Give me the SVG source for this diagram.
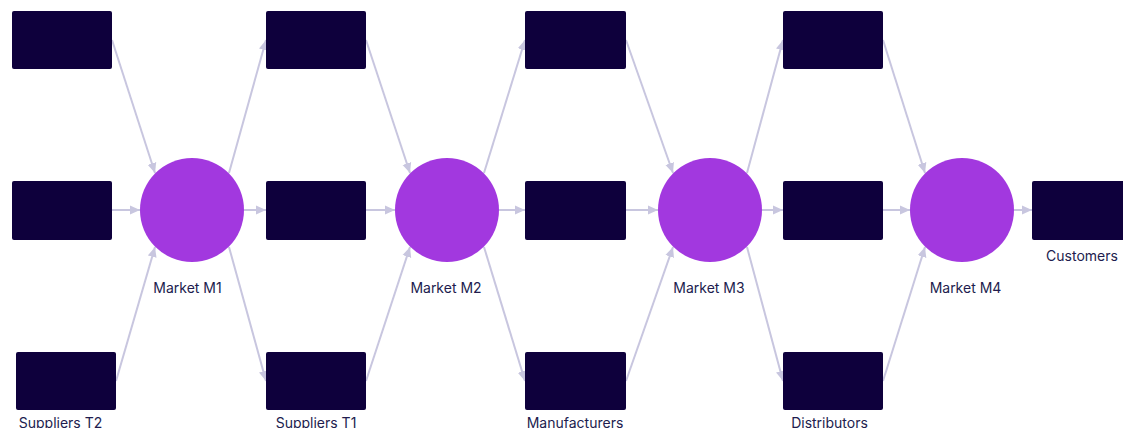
<svg xmlns="http://www.w3.org/2000/svg" width="1123" height="428" viewBox="0 0 1123 428">
<style>
.box{fill:#0e003c}
.mkt{fill:#a238df}
.lbl{font-family:Inter,"Liberation Sans",sans-serif;font-size:14px;fill:#211c4e;text-anchor:middle}
.edge{stroke:#c8c6df;stroke-width:2;fill:none;marker-end:url(#arr)}
</style>
<defs>
<marker id="arr" markerUnits="userSpaceOnUse" markerWidth="10" markerHeight="10" viewBox="0 0 10 10" refX="10" refY="5" orient="auto">
<path d="M0,0.5 L10,5 L0,9.5 z" fill="#c8c6df"/>
</marker>
</defs>
<g id="connectors">
<line class="edge" x1="112" y1="40" x2="155" y2="173"/>
<line class="edge" x1="112" y1="210" x2="140" y2="210"/>
<line class="edge" x1="116" y1="381" x2="155" y2="247"/>
<line class="edge" x1="229" y1="173" x2="266" y2="40"/>
<line class="edge" x1="244" y1="210" x2="266" y2="210"/>
<line class="edge" x1="229" y1="247" x2="266" y2="381"/>
<line class="edge" x1="366" y1="40" x2="410" y2="173"/>
<line class="edge" x1="366" y1="210" x2="395" y2="210"/>
<line class="edge" x1="366" y1="381" x2="410" y2="247"/>
<line class="edge" x1="484" y1="173" x2="525" y2="40"/>
<line class="edge" x1="499" y1="210" x2="525" y2="210"/>
<line class="edge" x1="484" y1="247" x2="525" y2="381"/>
<line class="edge" x1="626" y1="40" x2="673" y2="173"/>
<line class="edge" x1="626" y1="210" x2="658" y2="210"/>
<line class="edge" x1="626" y1="381" x2="673" y2="247"/>
<line class="edge" x1="747" y1="173" x2="783" y2="40"/>
<line class="edge" x1="762" y1="210" x2="783" y2="210"/>
<line class="edge" x1="747" y1="247" x2="783" y2="381"/>
<line class="edge" x1="883" y1="40" x2="925" y2="173"/>
<line class="edge" x1="883" y1="210" x2="910" y2="210"/>
<line class="edge" x1="883" y1="381" x2="925" y2="247"/>
<line class="edge" x1="1014" y1="210" x2="1032" y2="210"/>
</g>
<g id="t2a"><rect class="box" x="12" y="11" width="100" height="58" rx="2"/></g>
<g id="t2b"><rect class="box" x="12" y="181" width="100" height="59" rx="2"/></g>
<g id="t2c"><rect class="box" x="16" y="352" width="100" height="58" rx="2"/><text class="lbl" x="60.5" y="428">Suppliers T2</text></g>
<g id="m1"><circle class="mkt" cx="192" cy="210" r="52"/><text class="lbl" x="187.5" y="293">Market M1</text></g>
<g id="t1a"><rect class="box" x="266" y="11" width="100" height="58" rx="2"/></g>
<g id="t1b"><rect class="box" x="266" y="181" width="100" height="59" rx="2"/></g>
<g id="t1c"><rect class="box" x="266" y="352" width="100" height="58" rx="2"/><text class="lbl" x="316" y="428">Suppliers T1</text></g>
<g id="m2"><circle class="mkt" cx="447" cy="210" r="52"/><text class="lbl" x="446" y="293">Market M2</text></g>
<g id="mfa"><rect class="box" x="525" y="11" width="101" height="58" rx="2"/></g>
<g id="mfb"><rect class="box" x="525" y="181" width="101" height="59" rx="2"/></g>
<g id="mfc"><rect class="box" x="525" y="352" width="101" height="58" rx="2"/><text class="lbl" x="575" y="428">Manufacturers</text></g>
<g id="m3"><circle class="mkt" cx="710" cy="210" r="52"/><text class="lbl" x="709" y="293">Market M3</text></g>
<g id="da"><rect class="box" x="783" y="11" width="100" height="58" rx="2"/></g>
<g id="db"><rect class="box" x="783" y="181" width="100" height="59" rx="2"/></g>
<g id="dc"><rect class="box" x="783" y="352" width="100" height="58" rx="2"/><text class="lbl" x="829.5" y="428">Distributors</text></g>
<g id="m4"><circle class="mkt" cx="962" cy="210" r="52"/><text class="lbl" x="965.5" y="293">Market M4</text></g>
<g id="cust"><rect class="box" x="1032" y="181" width="100" height="59" rx="2"/><text class="lbl" x="1082" y="261">Customers</text></g>
</svg>
